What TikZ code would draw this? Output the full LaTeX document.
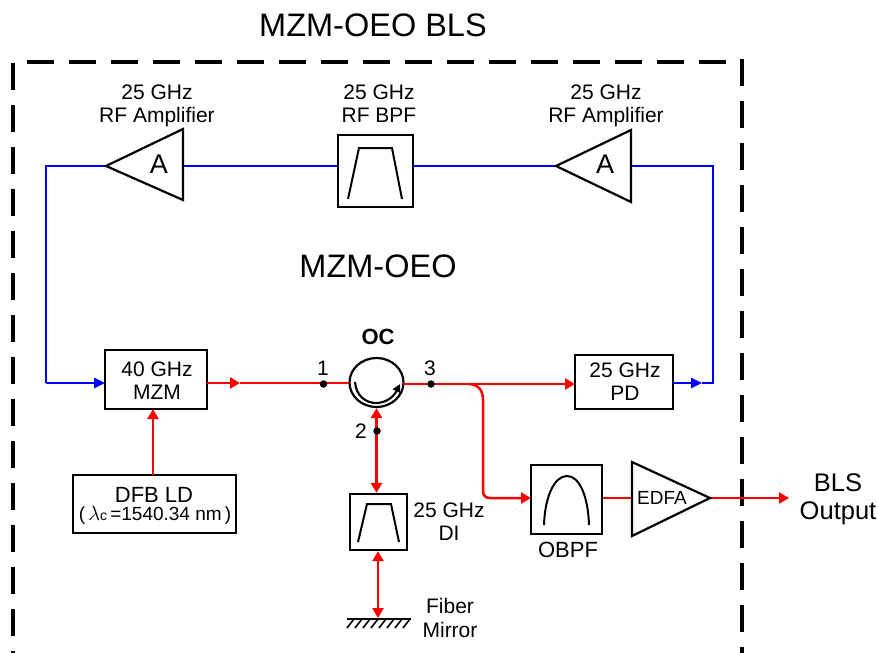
\documentclass[tikz,border=0pt]{standalone}
\usepackage{fontspec}
\setmainfont{Liberation Sans}
\usetikzlibrary{arrows.meta,shapes.geometric}
\definecolor{rfblue}{RGB}{0,0,255}
\definecolor{optred}{RGB}{255,0,0}
\newcommand{\fs}[1]{\fontsize{#1}{#1}\selectfont}
\tikzset{
  x=1pt,y=-1pt,
  blk/.style={draw=black,line width=2.2pt,fill=white,inner sep=0pt,rectangle},
  shapeline/.style={draw=black,line width=2.2pt,line join=miter},
  curve/.style={draw=black,line width=2pt},
  bluew/.style={draw=rfblue,line width=2.5pt},
  redw/.style={draw=optred,line width=2.5pt},
  tipb/.style={-{Triangle[length=11pt,width=10pt,fill=rfblue]}},
  tipr/.style={-{Triangle[length=10pt,width=11pt,fill=optred]}},
  tiprr/.style={{Triangle[length=10pt,width=11pt,fill=optred]}-{Triangle[length=10pt,width=11pt,fill=optred]}},
  frame/.style={draw=black,line width=3.4pt,dash pattern=on 27pt off 15pt},
  lbl/.style={inner sep=0pt,anchor=base,font=\fs{21}},
  lblb/.style={inner sep=0pt,anchor=base,font=\fs{32.5}},
  lblc/.style={inner sep=0pt,anchor=base,font=\fs{22}},
  lbld/.style={inner sep=0pt,anchor=base,font=\fs{25.5}},
  dot/.style={circle,fill=black,inner sep=0pt,minimum size=7.5pt},
}
\begin{document}
\begin{tikzpicture}
\useasboundingbox (0,0) rectangle (878,653);
% frame
\coordinate (fa) at (27,62); \coordinate (fb) at (742,62);
\coordinate (fc) at (13,63); \coordinate (fd) at (13,653);
\coordinate (fe) at (742,59); \coordinate (ff) at (742,653);
\draw[frame] (fa) -- (fb);
\draw[frame] (fc) -- (fd);
\draw[frame] (fe) -- (ff);
% block nodes
\node[blk,minimum width=75pt,minimum height=72pt] (bpf) at (375.5,171) {};
\node[blk,minimum width=102pt,minimum height=59pt] (mzm) at (156,379.5) {};
\node[blk,minimum width=163pt,minimum height=58pt] (dfb) at (154.5,504) {};
\node[blk,minimum width=98pt,minimum height=54pt] (pd) at (624,382) {};
\node[blk,minimum width=57pt,minimum height=56pt] (di) at (378.5,522) {};
\node[blk,minimum width=71pt,minimum height=69pt] (obpf) at (566.5,499.5) {};
\node[blk,shape=ellipse,minimum width=54pt,minimum height=49pt] (oc) at (376.5,382.5) {};
% triangle corners
\coordinate (a1tip) at (106,166); \coordinate (a1t) at (183,129); \coordinate (a1b) at (183,200); \coordinate (a1e) at (183,166);
\coordinate (a2tip) at (556,166); \coordinate (a2t) at (631,130); \coordinate (a2b) at (631,202); \coordinate (a2e) at (631,166);
\coordinate (edt) at (632,462); \coordinate (edb) at (632,536); \coordinate (edtip) at (710,498); \coordinate (edw) at (632,498);
% blue connectors
\coordinate (bl) at (46,166); \coordinate (blb) at (46,383); \coordinate (mzmin) at (105,383);
\coordinate (br) at (713,166); \coordinate (brb) at (713,383); \coordinate (pdout) at (673,383); \coordinate (pdm) at (702,383);
\draw[bluew] (a1e) -- (bpf.west |- a1e);
\draw[bluew] (bpf.east |- a1e) -- (a2tip);
\draw[bluew,line join=miter] (a1tip) -- (bl) -- (blb);
\draw[bluew,tipb] (blb) -- (mzmin);
\draw[bluew,line join=miter] (a2e) -- (br) -- (brb) -- (pdm);
\draw[bluew,tipb] (pdout) -- (pdm);
% red connectors
\coordinate (mzmout) at (207,383); \coordinate (mzmm) at (240,383); \coordinate (ocw) at (349,383); \coordinate (oce) at (403,384);
\coordinate (pdin) at (575,384); \coordinate (sp) at (468,384);
\coordinate (dfbt) at (153,475); \coordinate (mzmb) at (153,409);
\draw[redw,tipr] (dfbt) -- (mzmb);
\draw[redw,tipr] (mzmout) -- (mzmm);
\draw[redw] (mzmm) -- (ocw);
\draw[redw,tipr] (oce) -- (pdin);
\coordinate (obin) at (531,498);
\draw[redw,tipr] (sp) .. controls (478,384) and (483,390) .. (483,400) -- (483,491) .. controls (483,496) and (486,498) .. (490,498) -- (obin);
\draw[redw,tiprr] (oc.south) -- (oc.south |- di.north);
\coordinate (mirc) at (378,618);
\draw[redw,tiprr] (di.south -| mirc) -- (mirc);
\draw[redw] (obpf.east |- edw) -- (edw);
\coordinate (blsout) at (789,498);
\draw[redw,tipr] (edtip) -- (blsout);
% triangles
\draw[shapeline,fill=white] (a1tip) -- (a1t) -- (a1b) -- cycle;
\draw[shapeline,fill=white] (a2tip) -- (a2b) -- (a2t) -- cycle;
\draw[shapeline,fill=white] (edt) -- (edb) -- (edtip) -- cycle;
% filter glyphs
\draw[curve,line join=miter] (348,199) -- (359,148) -- (392,148) -- (402,199);
\draw[curve,line join=miter] (358,542) -- (367,504) -- (391,504) -- (399,542);
\draw[curve] (544,525) .. controls (545,495) and (555,476) .. (567,476) .. controls (579,476) and (588,495) .. (589,525);
% circulator inner arrow
\draw[black,line width=2.1pt,-{Triangle[length=8pt,width=8pt]}] (355,382) .. controls (356,396) and (366,403) .. (376,403) .. controls (385,403) and (393,398) .. (400,384);
% dots
\node[dot] (d1) at (323.5,384) {};
\node[dot] (d3) at (431,384) {};
\node[dot] (d2) at (377,431) {};
% mirror
\coordinate (ml) at (347,619); \coordinate (mr) at (411,619);
\draw[black,line width=2pt] (ml) -- (mr);
\foreach \i in {0,...,7} \draw[black,line width=1.6pt] (354+8*\i,619) -- (347+8*\i,628);
% texts
\node[lblb] (t1) at (373,36) {MZM-OEO BLS};
\node[lblb] (t2) at (378,277) {MZM-OEO};
\node[lbl] (t3) at (157,99) {25 GHz};
\node[lbl] (t4) at (157,122) {RF Amplifier};
\node[lbl] (t5) at (379,99) {25 GHz};
\node[lbl] (t6) at (379,122) {RF BPF};
\node[lbl] (t7) at (606,99) {25 GHz};
\node[lbl] (t8) at (606,122) {RF Amplifier};
\node[inner sep=0pt,anchor=base,font=\fs{27}] (a1) at (159,173) {A};
\node[inner sep=0pt,anchor=base,font=\fs{27}] (a2) at (605,173) {A};
\node[lbl] (t9) at (157,376) {40 GHz};
\node[lbl] (t10) at (157,399) {MZM};
\node[lblc] (t11) at (154,502) {DFB LD};
\node[inner sep=0pt,anchor=base,font=\fs{19}] (t12) at (155,520) {(\,{\fs{21}$\lambda$}{\fs{14}c}\,=1540.34 nm\,)};
\node[lblc,font=\fs{22}\bfseries] (t13) at (378,344) {OC};
\node[lbl] (t14) at (323,375) {1};
\node[lbl] (t15) at (430,375) {3};
\node[lbl] (t16) at (361,438) {2};
\node[lbl] (t17) at (449,517) {25 GHz};
\node[lbl] (t18) at (449,540) {DI};
\node[lbl] (t19) at (450,613) {Fiber};
\node[lbl] (t20) at (450,637) {Mirror};
\node[lbl] (t21) at (625,377) {25 GHz};
\node[lbl] (t22) at (625,400) {PD};
\node[lblc] (t23) at (568,557) {OBPF};
\node[inner sep=0pt,anchor=base,font=\fs{19}] (t24) at (662,504) {EDFA};
\node[lbld] (t25) at (838,491) {BLS};
\node[lbld] (t26) at (838,519) {Output};
\end{tikzpicture}
\end{document}
